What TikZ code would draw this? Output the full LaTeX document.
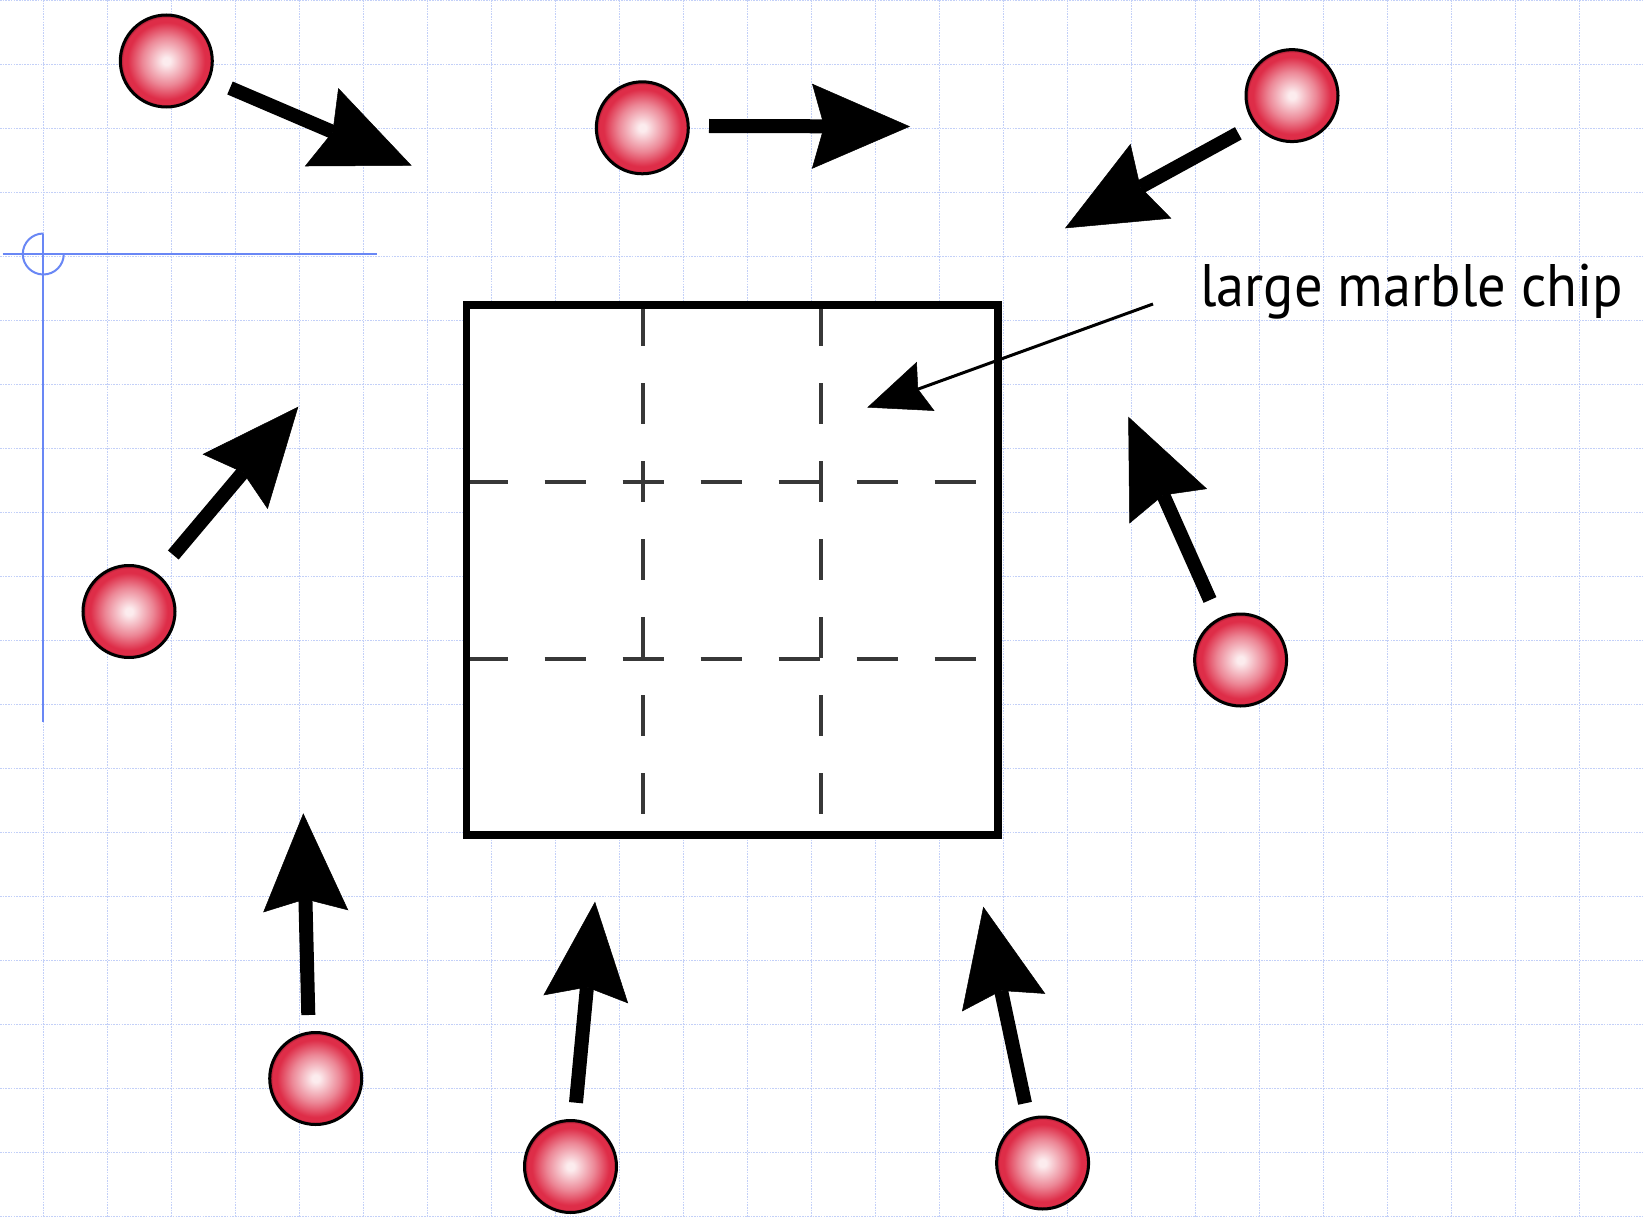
\documentclass[tikz,border=0pt]{standalone}
\usepackage{fontspec}
\newfontfamily\labelfont{PT Sans}
\usetikzlibrary{arrows.meta}
\definecolor{gridblue}{RGB}{195,208,248}
\definecolor{crossblue}{RGB}{105,135,245}
\definecolor{ballout}{RGB}{222,45,72}
\definecolor{ballmid}{RGB}{236,135,150}
\definecolor{ballin}{RGB}{252,236,238}
\definecolor{ballrim}{RGB}{140,22,42}
\pgfdeclareradialshading{marble}{\pgfpoint{0bp}{0bp}}{color(0bp)=(ballin); color(2bp)=(ballin); color(13bp)=(ballmid); color(21bp)=(ballout); color(23.5bp)=(ballout); color(25bp)=(ballrim); color(50bp)=(ballrim)}
\tikzset{
  gridline/.style={draw=gridblue, line width=1.3pt, dash pattern=on 1.6pt off 1.1pt},
  crossline/.style={draw=crossblue, line width=2pt},
  ball/.style={circle, minimum size=92pt, inner sep=0pt, draw=black, line width=3pt, shading=marble},
  bigarrow/.style={line width=14pt, -{Stealth[length=98pt,width=85pt,inset=12pt,line width=0.5pt]}},
  thinarrow/.style={line width=3pt, -{Stealth[length=62pt,width=52pt,inset=8pt,line width=0.5pt]}},
  chipbox/.style={draw=black, line width=7.5pt, fill=white},
  cutline/.style={draw=black!78, line width=4pt, dash pattern=on 41pt off 37pt}
}
\begin{document}
\begin{tikzpicture}[x=1pt,y=-1pt]
\useasboundingbox (0,0) rectangle (1643,1217);
\fill[white] (0,0) rectangle (1643,1217);
% grid
\foreach \i in {0,...,25} \draw[gridline] ({43.3+64*\i},0) -- ({43.3+64*\i},1217);
\foreach \j in {0,...,19} \draw[gridline] (0,{0.5+64*\j}) -- (1643,{0.5+64*\j});
% blue guide cross
\coordinate (gL) at (2.7,254);
\coordinate (gR) at (376.7,254);
\coordinate (gT) at (43.3,233.5);
\coordinate (gB) at (43.3,721.7);
\draw[crossline] (gL) -- (gR);
\draw[crossline] (gT) -- (gB);
\draw[crossline] (63.8,254) arc[start angle=0, end angle=270, radius=20.5];
% marble chip block
\coordinate (boxNW) at (466.5,305);
\coordinate (boxSE) at (998,835);
\draw[chipbox] (boxNW) rectangle (boxSE);
\coordinate (v1t) at (643,305);  \coordinate (v1b) at (643,835);
\coordinate (v2t) at (820.5,305); \coordinate (v2b) at (820.5,835);
\coordinate (h1l) at (466.5,482); \coordinate (h1r) at (998,482);
\coordinate (h2l) at (466.5,658.5); \coordinate (h2r) at (998,658.5);
\draw[cutline] (v1t) -- (v1b);
\draw[cutline] (v2t) -- (v2b);
\draw[cutline] (h1l) -- (h1r);
\draw[cutline] (h2l) -- (h2r);
\draw[chipbox, fill=none] (boxNW) rectangle (boxSE);
% balls
\node[ball] (b1) at (166.3,61) {};
\node[ball] (b2) at (642.3,127.8) {};
\node[ball] (b3) at (1292,95.6) {};
\node[ball] (b4) at (129,611.5) {};
\node[ball] (b5) at (1240.6,660) {};
\node[ball] (b6) at (315.7,1078.5) {};
\node[ball] (b7) at (570.5,1166.5) {};
\node[ball] (b8) at (1042.6,1163) {};
% arrows
\coordinate (a1s) at (230,88);     \coordinate (a1e) at (411.7,165.7);
\coordinate (a2s) at (709,126);    \coordinate (a2e) at (910,126.5);
\coordinate (a3s) at (1238.3,133.3); \coordinate (a3e) at (1065,228.3);
\coordinate (a4s) at (173.3,555);  \coordinate (a4e) at (298.3,406.7);
\coordinate (a5s) at (1210,600);   \coordinate (a5e) at (1128.3,416.7);
\coordinate (a6s) at (308.3,1015); \coordinate (a6e) at (303.3,813.3);
\coordinate (a7s) at (576,1102.7); \coordinate (a7e) at (595,901.7);
\coordinate (a8s) at (1025,1103.3); \coordinate (a8e) at (983.3,906.7);
\draw[bigarrow] (a1s) -- (a1e);
\draw[bigarrow] (a2s) -- (a2e);
\draw[bigarrow] (a3s) -- (a3e);
\draw[bigarrow] (a4s) -- (a4e);
\draw[bigarrow] (a5s) -- (a5e);
\draw[bigarrow] (a6s) -- (a6e);
\draw[bigarrow] (a7s) -- (a7e);
\draw[bigarrow] (a8s) -- (a8e);
% label
\node[font=\labelfont\fontsize{60}{72}\selectfont, anchor=base west, inner sep=0pt] (lbl) at (1200,306.7) {\resizebox{423pt}{\height}{large marble chip}};
\coordinate (ls) at (1153,304);
\coordinate (le) at (867.3,407.5);
\draw[thinarrow] (ls) -- (le);
\end{tikzpicture}
\end{document}
